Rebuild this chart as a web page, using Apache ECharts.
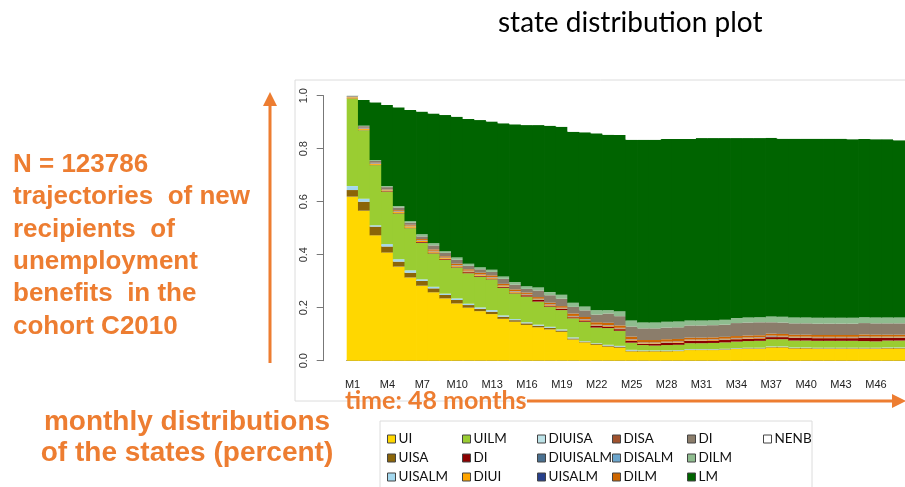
<!DOCTYPE html>
<html>
<head>
<meta charset="utf-8">
<title>state distribution plot</title>
<script src="https://cdn.jsdelivr.net/npm/echarts@6.0.0/dist/echarts.min.js"></script>
<style>
  html, body { margin: 0; padding: 0; background: #ffffff; }
  #chart { width: 905px; height: 487px; }
</style>
</head>
<body>
<div id="chart"></div>
<script>
// months on the x axis
const months = ['M1','M2','M3','M4','M5','M6','M7','M8','M9','M10','M11','M12',
  'M13','M14','M15','M16','M17','M18','M19','M20','M21','M22','M23','M24',
  'M25','M26','M27','M28','M29','M30','M31','M32','M33','M34','M35','M36',
  'M37','M38','M39','M40','M41','M42','M43','M44','M45','M46','M47','M48'];

// share of each state per month, bottom to top
const ui = [0.619,0.566,0.473,0.408,0.355,0.314,0.283,0.258,0.235,0.216,
  0.200,0.187,0.176,0.158,0.147,0.135,0.126,0.118,0.109,0.080,
  0.069,0.060,0.053,0.049,0.035,0.035,0.035,0.035,0.036,0.040,
  0.040,0.040,0.041,0.044,0.045,0.045,0.050,0.050,0.046,0.046,
  0.045,0.045,0.045,0.045,0.045,0.045,0.046,0.046];
const uisa = [0.025,0.034,0.033,0.023,0.019,0.018,0.018,0.015,0.013,0.013,
  0.010,0.009,0.009,0.008,0.006,0.006,0.006,0.006,0.005,0.004,
  0.003,0.004,0.004,0.004,0.003,0.002,0.002,0.002,0.002,0.002,
  0.002,0.002,0.002,0.002,0.002,0.002,0.002,0.002,0.002,0.002,
  0.002,0.002,0.002,0.002,0.002,0.002,0.002,0.002];
const uisalm = [0.015,0.011,0.005,0.009,0.009,0.009,0.006,0.006,0.005,0.006,
  0.005,0.005,0.006,0.005,0.004,0.004,0.004,0.004,0.004,0.004,
  0.002,0.002,0.003,0.003,0.003,0.002,0.002,0.002,0.002,0.002,
  0.002,0.002,0.002,0.002,0.002,0.002,0.002,0.002,0.002,0.002,
  0.002,0.002,0.002,0.002,0.002,0.002,0.002,0.002];
const uilm = [0.330,0.259,0.227,0.198,0.173,0.159,0.138,0.126,0.127,0.117,
  0.115,0.116,0.116,0.104,0.097,0.097,0.087,0.076,0.073,0.072,
  0.073,0.059,0.063,0.057,0.027,0.020,0.018,0.020,0.020,0.022,
  0.022,0.023,0.024,0.024,0.025,0.026,0.027,0.027,0.026,0.026,
  0.026,0.026,0.026,0.026,0.025,0.024,0.026,0.026];
const di = [0.001,0.001,0.001,0.002,0.002,0.002,0.003,0.003,0.003,0.003,
  0.004,0.003,0.003,0.003,0.003,0.005,0.006,0.004,0.004,0.004,
  0.005,0.006,0.006,0.006,0.008,0.005,0.007,0.008,0.008,0.009,
  0.009,0.009,0.009,0.009,0.009,0.009,0.008,0.008,0.010,0.010,
  0.010,0.010,0.010,0.010,0.012,0.013,0.010,0.010];
const diui = [0.004,0.004,0.004,0.003,0.004,0.005,0.004,0.004,0.004,0.003,
  0.003,0.003,0.003,0.003,0.003,0.002,0.002,0.002,0.002,0.002,
  0.002,0.002,0.002,0.002,0.002,0.002,0.002,0.002,0.002,0.002,
  0.002,0.002,0.002,0.002,0.002,0.002,0.002,0.002,0.002,0.002,
  0.002,0.002,0.002,0.002,0.002,0.002,0.002,0.002];
const diuisa = [0.0005,0.0005,0.0005,0.0005,0.0005,0.0005,0.0005,0.0005,0.0005,0.0005,
  0.0005,0.0005,0.0005,0.0005,0.0005,0.0005,0.0005,0.0005,0.0005,0.0005,
  0.0005,0.0005,0.0005,0.0005,0.0005,0.0005,0.0005,0.0005,0.0005,0.0005,
  0.0005,0.0005,0.0005,0.0005,0.0005,0.0005,0.0005,0.0005,0.0005,0.0005,
  0.0005,0.0005,0.0005,0.0005,0.0005,0.0005,0.0005,0.0005];
const diuisalm = [0.0005,0.0005,0.0005,0.0005,0.0005,0.0005,0.0005,0.0005,0.0005,0.0005,
  0.0005,0.0005,0.0005,0.0005,0.0005,0.0005,0.0005,0.0005,0.0005,0.0005,
  0.0005,0.0005,0.0005,0.0005,0.0005,0.0005,0.0005,0.0005,0.0005,0.0005,
  0.0005,0.0005,0.0005,0.0005,0.0005,0.0005,0.0005,0.0005,0.0005,0.0005,
  0.0005,0.0005,0.0005,0.0005,0.0005,0.0005,0.0005,0.0005];
const uisalm2 = [0.0005,0.0005,0.0005,0.0005,0.0005,0.0005,0.0005,0.0005,0.0005,0.0005,
  0.0005,0.0005,0.0005,0.0005,0.0005,0.0005,0.0005,0.0005,0.0005,0.0005,
  0.0005,0.0005,0.0005,0.0005,0.0005,0.0005,0.0005,0.0005,0.0005,0.0005,
  0.0005,0.0005,0.0005,0.0005,0.0005,0.0005,0.0015,0.0005,0.0005,0.0005,
  0.0005,0.0005,0.0005,0.0005,0.0015,0.0005,0.0005,0.0005];
const disa = [0.001,0.001,0.001,0.001,0.001,0.001,0.001,0.001,0.001,0.001,
  0.001,0.001,0.001,0.001,0.001,0.001,0.001,0.001,0.001,0.001,
  0.001,0.001,0.001,0.001,0.001,0.001,0.001,0.001,0.001,0.001,
  0.001,0.001,0.001,0.001,0.001,0.001,0.001,0.001,0.001,0.001,
  0.001,0.001,0.001,0.001,0.001,0.001,0.001,0.001];
const disalm = [0.0005,0.0005,0.0005,0.0005,0.0005,0.0005,0.0005,0.0005,0.0005,0.0005,
  0.0005,0.0005,0.0005,0.0005,0.0005,0.0005,0.0005,0.0005,0.0005,0.0005,
  0.0005,0.0005,0.0005,0.0005,0.0005,0.0005,0.0005,0.0005,0.0005,0.0005,
  0.0005,0.0005,0.0005,0.0005,0.0005,0.0005,0.0005,0.0005,0.0005,0.0005,
  0.0005,0.0005,0.0005,0.0005,0.0005,0.0005,0.0005,0.0005];
const dilm = [0.000,0.001,0.001,0.001,0.003,0.003,0.004,0.005,0.004,0.005,
  0.005,0.006,0.006,0.006,0.006,0.005,0.006,0.006,0.006,0.009,
  0.008,0.009,0.009,0.009,0.010,0.009,0.009,0.009,0.009,0.007,
  0.007,0.007,0.007,0.007,0.007,0.007,0.007,0.007,0.007,0.007,
  0.007,0.007,0.007,0.007,0.007,0.007,0.007,0.007];
const di2 = [0.002,0.006,0.007,0.008,0.010,0.008,0.010,0.015,0.013,0.015,
  0.013,0.013,0.013,0.019,0.018,0.014,0.025,0.028,0.028,0.025,
  0.025,0.029,0.035,0.035,0.038,0.044,0.044,0.044,0.044,0.046,
  0.046,0.046,0.046,0.049,0.049,0.049,0.043,0.043,0.043,0.043,
  0.043,0.043,0.043,0.043,0.043,0.043,0.043,0.043];
const dilm2 = [0.001,0.002,0.003,0.004,0.006,0.005,0.008,0.008,0.006,0.008,
  0.008,0.008,0.008,0.009,0.010,0.010,0.011,0.012,0.015,0.016,
  0.015,0.016,0.012,0.019,0.023,0.022,0.022,0.022,0.022,0.019,
  0.019,0.019,0.019,0.019,0.019,0.019,0.022,0.022,0.022,0.022,
  0.022,0.022,0.022,0.022,0.022,0.022,0.022,0.022];
const lm = [0.000,0.097,0.218,0.306,0.372,0.420,0.463,0.490,0.514,0.532,
  0.546,0.555,0.560,0.578,0.595,0.608,0.613,0.628,0.634,0.645,
  0.657,0.668,0.663,0.665,0.682,0.690,0.690,0.690,0.689,0.685,
  0.688,0.687,0.685,0.679,0.677,0.676,0.674,0.672,0.675,0.675,
  0.676,0.676,0.676,0.674,0.673,0.673,0.673,0.669];
const nenb = [0.000,0.016,0.025,0.035,0.044,0.054,0.060,0.067,0.073,0.079,
  0.088,0.092,0.097,0.104,0.108,0.111,0.111,0.113,0.117,0.136,
  0.138,0.142,0.147,0.148,0.166,0.166,0.166,0.163,0.163,0.163,
  0.160,0.160,0.160,0.160,0.160,0.160,0.160,0.162,0.162,0.162,
  0.162,0.162,0.162,0.164,0.164,0.164,0.164,0.168];

// state labels (duplicates in the legend get a #2 suffix that is hidden)
const stateNames = ['UI','UISA','UISALM','UILM','DI','DIUI','DIUISA','DIUISALM',
  'UISALM#2','DISA','DISALM','DILM','DI#2','DILM#2','LM','NENB'];
const stateValues = [ui, uisa, uisalm, uilm, di, diui, diuisa, diuisalm,
  uisalm2, disa, disalm, dilm, di2, dilm2, lm, nenb];
const stateColors = ['#FFD700','#8B6508','#A4D8EE','#9ACD32','#8B0000','#FFA500',
  '#BDE3E8','#4A7090','#27408B','#A0522D','#6CA6CD','#CD6600','#8B7D6B','#8FBC8F',
  '#006400','#FFFFFF'];

// legend columns, read top to bottom
const legendColumns = [
  ['UI','UISA','UISALM'],
  ['UILM','DI','DIUI'],
  ['DIUISA','DIUISALM','UISALM#2'],
  ['DISA','DISALM','DILM'],
  ['DI#2','DILM#2','LM'],
  ['NENB']
];

// left annotation lines
const noteLines = ['N = 123786', 'trajectories  of new', 'recipients  of',
  'unemployment', 'benefits  in the', 'cohort C2010'];
const bottomNote = ['monthly distributions', 'of the states (percent)'];

document.addEventListener('DOMContentLoaded', () => {
  const chart = echarts.init(document.getElementById('chart'), null, { renderer: 'canvas' });
  const orange = '#ED7D31';
  const legendLeft = [387, 462, 537, 612, 687, 763];

  // bars are a hair wider than the slot so no seams show between months
  const series = stateNames.map((name, i) => ({
    name: name,
    type: 'bar',
    stack: 'states',
    data: stateValues[i],
    barWidth: 12.4,
    itemStyle: { color: stateColors[i], borderWidth: 0 },
    emphasis: { disabled: true },
    animation: false
  }));

  const legends = legendColumns.map((col, i) => ({
    orient: 'vertical',
    left: legendLeft[i],
    top: 431,
    data: col,
    icon: 'rect',
    itemWidth: 8,
    itemHeight: 8,
    itemGap: 3,
    selectedMode: false,
    padding: 0,
    itemStyle: { borderColor: '#444', borderWidth: 1 },
    textStyle: { fontFamily: 'Lato', fontSize: 13.5, color: '#111', lineHeight: 16, padding: [0, 0, 0, -2] },
    formatter: name => name.split('#')[0]
  }));

  const graphics = [
    // light frame of the plot picture
    { type: 'rect', shape: { x: 295, y: 80, width: 615, height: 321 }, style: { fill: 'none', stroke: '#dcdcdc', lineWidth: 1 }, z: -1 },
    // legend box
    { type: 'rect', shape: { x: 380, y: 421, width: 432, height: 70 }, style: { fill: 'none', stroke: '#dcdcdc', lineWidth: 1 }, z: -1 },
    // vertical arrow
    { type: 'line', shape: { x1: 270, y1: 363, x2: 270, y2: 103 }, style: { stroke: orange, lineWidth: 3 } },
    { type: 'polygon', shape: { points: [[263, 106], [270, 92], [277, 106]] }, style: { fill: orange } },
    // horizontal arrow
    { type: 'line', shape: { x1: 527, y1: 401, x2: 895, y2: 401 }, style: { stroke: orange, lineWidth: 3 } },
    { type: 'polygon', shape: { points: [[892, 394], [906, 401], [892, 408]] }, style: { fill: orange } },
    { type: 'text', x: 345, y: 401, z: 10,
      style: { text: 'time: 48 months', fill: orange, font: 'bold 25px Lato', verticalAlign: 'middle' } }
  ];

  noteLines.forEach((line, i) => {
    graphics.push({
      type: 'text', x: 13, y: 165 + i * 32.3,
      style: { text: line, fill: orange, font: 'bold 26px "Liberation Sans"', verticalAlign: 'middle' }
    });
  });
  bottomNote.forEach((line, i) => {
    graphics.push({
      type: 'text', x: 187, y: 422 + i * 31,
      style: { text: line, fill: orange, font: 'bold 28px "Liberation Sans"', align: 'center', verticalAlign: 'middle' }
    });
  });

  const option = {
    backgroundColor: '#ffffff',
    animation: false,
    title: {
      text: 'state distribution plot',
      left: 493,
      top: 4,
      textStyle: { fontFamily: 'Lato', fontSize: 28, fontWeight: 'normal', color: '#000' }
    },
    legend: legends,
    grid: { left: 346.7, top: 95.7, width: 559.2, height: 265, containLabel: false },
    xAxis: {
      type: 'category',
      data: months,
      offset: 4,
      axisLine: { lineStyle: { color: '#777', width: 1 } },
      axisTick: { alignWithLabel: true, interval: 0, length: 7, lineStyle: { color: '#777' } },
      axisLabel: { interval: 2, margin: 15, fontFamily: 'Liberation Sans', fontSize: 11, color: '#222' },
      splitLine: { show: false }
    },
    yAxis: {
      type: 'value',
      min: 0,
      max: 1,
      interval: 0.2,
      offset: 23,
      axisLine: { show: true, lineStyle: { color: '#777', width: 1 } },
      axisTick: { show: true, length: 7, lineStyle: { color: '#777' } },
      axisLabel: { rotate: 90, margin: 14, fontFamily: 'Liberation Sans', fontSize: 11, color: '#333',
        formatter: v => v.toFixed(1) },
      splitLine: { show: false }
    },
    series: series,
    graphic: graphics
  };

  chart.setOption(option);
});
</script>
</body>
</html>
